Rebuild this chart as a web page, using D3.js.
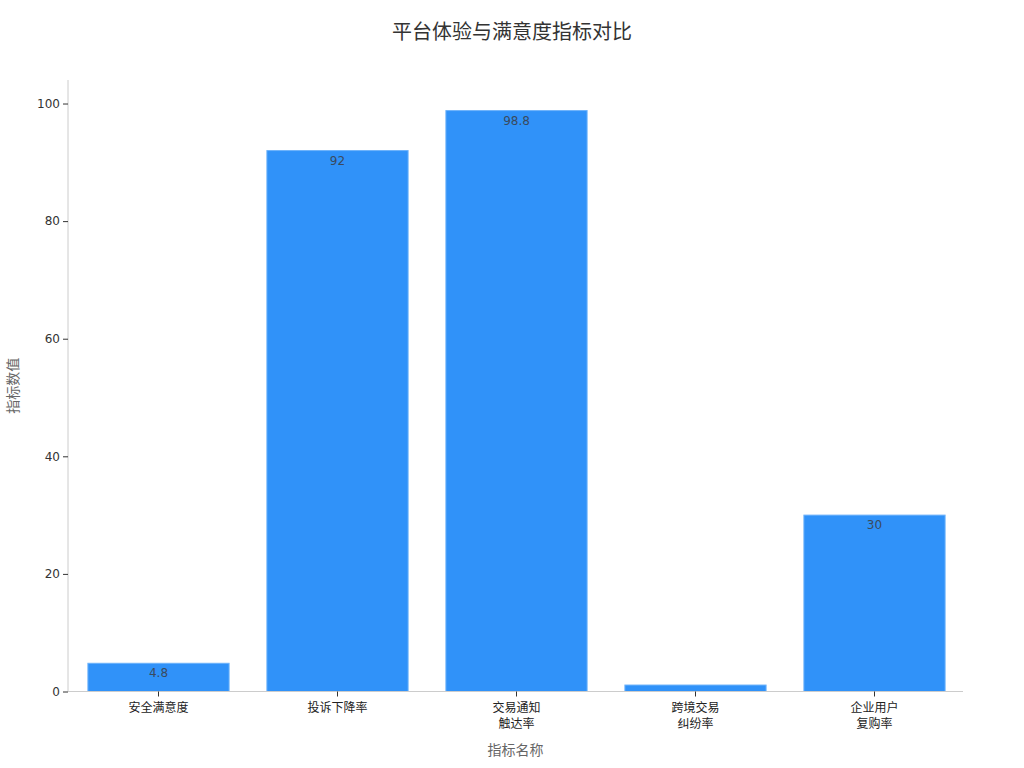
<!DOCTYPE html>
<html><head><meta charset="utf-8">
<script src="https://cdn.jsdelivr.net/npm/d3@7/dist/d3.min.js"></script>
<style>body{margin:0;background:#fff;} text{font-family:"DejaVu Sans","Noto Sans CJK SC",sans-serif;}</style>
</head><body>
<svg id="c" width="1024" height="768"></svg>
<script>
const categories = [["安全满意度"],["投诉下降率"],["交易通知","触达率"],["跨境交易","纠纷率"],["企业用户","复购率"]];
const values = [4.8, 92, 98.8, 1.1, 30];
const yTicks = [0, 20, 40, 60, 80, 100];
const title = "平台体验与满意度指标对比";
const xTitle = "指标名称";
const yTitle = "指标数值";

const svg = d3.select("#c");
const m = {l:68, r:1024-963, t:80, b:768-691.5};
const W = 1024, H = 768;
const ids = categories.map((c,i)=>i);
const rows = values.map((v,i)=>({i, v}));
const x = d3.scaleBand().domain(ids).range([m.l+1, W-m.r+1]).paddingInner(0.2).paddingOuter(0.1);
const y = d3.scaleLinear().domain([0, 104]).range([H-m.b, m.t]);

svg.append("text").attr("x",512).attr("y",39).attr("text-anchor","middle")
  .attr("font-size",20).attr("fill","#333").text(title);

svg.selectAll("rect.bar").data(rows).join("rect").attr("class","bar")
  .attr("x",d=>x(d.i)+1).attr("width",x.bandwidth()-2)
  .attr("y",d=>y(d.v)).attr("height",d=>y(0)-y(d.v))
  .attr("fill","#3092F9").attr("stroke","#6cb2fb").attr("stroke-width",1);

svg.selectAll("text.lbl").data(rows.filter(d=>y(0)-y(d.v)>15)).join("text").attr("class","lbl")
  .attr("x",d=>x(d.i)+x.bandwidth()/2).attr("y",d=>y(d.v)+14)
  .attr("text-anchor","middle").attr("font-size",12).attr("fill","#3a4a5e").text(d=>d.v);

// y axis
const ya = svg.append("g").attr("transform",`translate(${m.l},0)`)
  .call(d3.axisLeft(y).tickValues(yTicks).tickSize(5).tickPadding(3));
ya.select(".domain").attr("stroke","#ccc").attr("d",`M0,${m.t}V${y(0)}`);
ya.selectAll(".tick line").attr("stroke","#333");
ya.selectAll(".tick text").attr("font-size",12).attr("fill","#333");

// x axis
const xa = svg.append("g").attr("transform",`translate(0,${y(0)})`)
  .call(d3.axisBottom(x).tickSize(5).tickFormat(""));
xa.select(".domain").attr("stroke","#ccc").attr("d",`M${m.l},0H${W-m.r}`);
xa.selectAll(".tick line").attr("stroke","#333");
xa.selectAll(".tick").each(function(d){
  const t = d3.select(this).append("text").attr("fill","#222").attr("font-size",12).attr("text-anchor","middle");
  categories[d].forEach((s,k)=>t.append("tspan").attr("x",0).attr("y",20+k*16).text(s));
});

svg.append("text").attr("x",(m.l+W-m.r)/2).attr("y",755).attr("text-anchor","middle")
  .attr("font-size",14).attr("fill","#666").text(xTitle);
svg.append("text").attr("transform",`translate(18,${(m.t+y(0))/2}) rotate(-90)`).attr("text-anchor","middle")
  .attr("font-size",14).attr("fill","#666").text(yTitle);
</script>
</body></html>
